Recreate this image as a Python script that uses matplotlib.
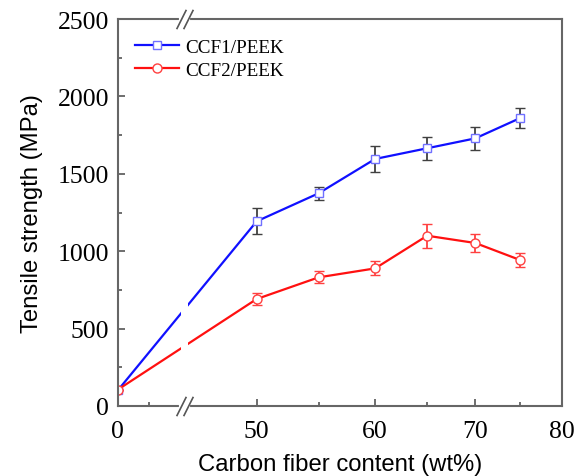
import numpy as np
import matplotlib
matplotlib.use("Agg")
import matplotlib.pyplot as plt
from matplotlib.transforms import blended_transform_factory

# Data
fiber_content = [0, 50, 55, 60, 65, 70, 75]
ccf1_strength = [100, 1193, 1374, 1596, 1665, 1729, 1860]
ccf1_err = [0, 84, 40, 83, 75, 75, 65]
ccf2_strength = [105, 691, 831, 889, 1100, 1053, 943]
ccf2_err = [0, 40, 39, 46, 77, 61, 46]

x_ticks = [0, 50, 60, 70, 80]
x_minor = [2.5, 55, 65, 75]
y_ticks = [0, 500, 1000, 1500, 2000, 2500]

# Broken x axis: linear 0-5, gap, log 45-80
break_lo, break_hi = 5.0, 45.0
k_lin = 12.64
c_log = 650.0
u50 = 139.0
u_lo = break_lo * k_lin
u_hi = u50 + c_log * np.log(break_hi / 50.0)


def forward(x):
    x = np.asarray(x, dtype=float)
    lin = x * k_lin
    logp = u50 + c_log * np.log(np.maximum(x, break_hi) / 50.0)
    mid = u_lo + (x - break_lo) / (break_hi - break_lo) * (u_hi - u_lo)
    return np.where(x <= break_lo, lin, np.where(x >= break_hi, logp, mid))


def inverse(u):
    u = np.asarray(u, dtype=float)
    lin = u / k_lin
    logp = 50.0 * np.exp((np.maximum(u, u_hi) - u50) / c_log)
    mid = break_lo + (u - u_lo) / (u_hi - u_lo) * (break_hi - break_lo)
    return np.where(u <= u_lo, lin, np.where(u >= u_hi, logp, mid))


plt.rcParams["font.family"] = ["Liberation Serif"]

fig = plt.figure(figsize=(5.85, 4.77), dpi=100)
ax = fig.add_axes([0.2012, 0.1468, 0.7596, 0.8112])
ax.set_xscale("function", functions=(forward, inverse))

e1 = ax.errorbar(fiber_content, ccf1_strength, yerr=ccf1_err, color="#1010ff", lw=1.6,
                 marker="s", ms=5.5, mfc="white", mec="#7070ff", mew=1.0,
                 ecolor="#404040", elinewidth=1.3, capsize=3.5, capthick=1.3)
e2 = ax.errorbar(fiber_content, ccf2_strength, yerr=ccf2_err, color="#ff1010", lw=1.6,
                 marker="o", ms=6.5, mfc="white", mec="#ff4040", mew=1.0,
                 ecolor="#ff4040", elinewidth=1.3, capsize=3.5, capthick=1.3)

ax.set_xlim(0, 80)
ax.set_ylim(0, 2500)
ax.set_xticks(x_ticks)
ax.set_xticks(x_minor, minor=True)
ax.set_xticklabels([str(t) for t in x_ticks])
ax.set_yticks(y_ticks)
ax.set_yticks(np.arange(250, 2500, 500), minor=True)
ax.tick_params(which="both", direction="in", labelsize=18.5, color="#555555",
               top=False, right=False)
ax.tick_params(which="major", length=5, width=1.2)
ax.tick_params(which="minor", length=3, width=1.2)
ax.tick_params(axis="x", pad=10)
ax.tick_params(axis="y", pad=6)

for sp in ax.spines.values():
    sp.set_color("#666666")
    sp.set_linewidth(1.5)

# Break: blank the lines and draw // marks on top and bottom spines
ax.axvspan(break_lo, break_hi, color="white", zorder=2.5, lw=0)
trans = blended_transform_factory(ax.transData, ax.transAxes)
for yy in (0, 1):
    ax.plot([break_lo, break_hi], [yy, yy], color="white", lw=3, transform=trans,
            clip_on=False, zorder=3)
    ax.plot([break_lo, break_hi], [yy, yy], color="#555555", lw=0, transform=trans,
            clip_on=False, zorder=4, marker=[(-0.5, -1), (0.5, 1)], ms=14, mew=1.2)

ax.set_xlabel("Carbon fiber content (wt%)", family="Liberation Sans", fontsize=17.2,
              labelpad=8)
ax.set_ylabel("Tensile strength (MPa)", family="Liberation Sans", fontsize=17.2,
              labelpad=11)

ax.legend([e1[0], e2[0]], ["CCF1/PEEK", "CCF2/PEEK"], loc="upper left",
          frameon=False, fontsize=13.8, handlelength=2.3,
          borderaxespad=0.5, handletextpad=0.3, labelspacing=0.3,
          bbox_to_anchor=(0.0, 0.995))

fig.savefig("out.png", dpi=100)
